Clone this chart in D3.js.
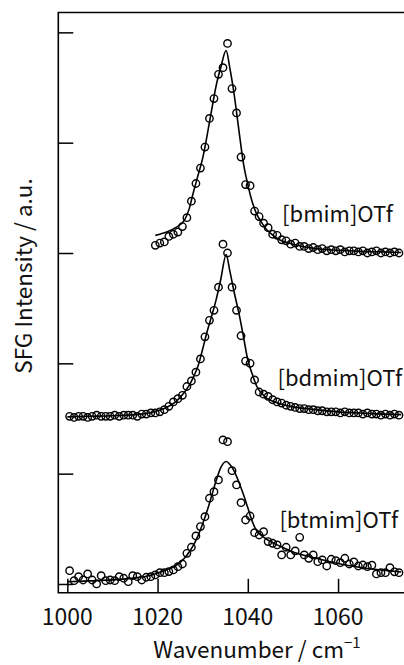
<!DOCTYPE html>
<html>
<head>
<meta charset="utf-8">
<script src="https://cdn.jsdelivr.net/npm/d3@7"></script>
<style>
  body { margin: 0; background: #fff; }
  svg { display: block; }
  text { font-family: "Noto Sans CJK JP", "DejaVu Sans", sans-serif; fill: #111; }
</style>
</head>
<body>
<svg id="chart" width="404" height="665"></svg>
<script>
// ---------- data

// measured wavenumbers (cm-1), 1 cm-1 steps
const WAVENUMBER = [
  1000.5, 1001.5, 1002.5, 1003.5, 1004.5, 1005.5, 1006.5, 1007.5, 1008.5, 1009.5,
  1010.5, 1011.5, 1012.5, 1013.5, 1014.5, 1015.5, 1016.5, 1017.5, 1018.5, 1019.5,
  1020.5, 1021.5, 1022.5, 1023.5, 1024.5, 1025.5, 1026.5, 1027.5, 1028.5, 1029.5,
  1030.5, 1031.5, 1032.5, 1033.5, 1034.5, 1035.5, 1036.5, 1037.5, 1038.5, 1039.5,
  1040.5, 1041.5, 1042.5, 1043.5, 1044.5, 1045.5, 1046.5, 1047.5, 1048.5, 1049.5,
  1050.5, 1051.5, 1052.5, 1053.5, 1054.5, 1055.5, 1056.5, 1057.5, 1058.5, 1059.5,
  1060.5, 1061.5, 1062.5, 1063.5, 1064.5, 1065.5, 1066.5, 1067.5, 1068.5, 1069.5,
  1070.5, 1071.5, 1072.5, 1073.5
];

// [bmim]OTf scan only starts at 1019.5
const BMIM_WAVENUMBER = WAVENUMBER.slice(19);

const BMIM_POINTS = [
  3.07, 3.09, 3.10, 3.15, 3.17, 3.19, 3.24, 3.32, 3.47, 3.63,
  3.77, 3.96, 4.22, 4.40, 4.62, 4.68, 4.90, 4.49, 4.27, 3.87,
  3.62, 3.61, 3.38, 3.33, 3.27, 3.23, 3.17, 3.16, 3.12, 3.11,
  3.08, 3.09, 3.06, 3.06, 3.04, 3.05, 3.03, 3.04, 3.02, 3.03,
  3.02, 3.03, 3.01, 3.02, 3.02, 3.01, 3.02, 3.00, 3.01, 3.02,
  3.00, 3.01, 3.00, 3.01, 3.00
];

const BDMIM_POINTS = [
  1.52, 1.51, 1.52, 1.52, 1.51, 1.52, 1.53, 1.52, 1.52, 1.52,
  1.53, 1.52, 1.53, 1.53, 1.53, 1.52, 1.54, 1.54, 1.55, 1.55,
  1.56, 1.58, 1.61, 1.65, 1.68, 1.71, 1.79, 1.84, 1.92, 2.04,
  2.24, 2.39, 2.48, 2.69, 3.08, 3.00, 2.69, 2.48, 2.25, 2.02,
  2.00, 1.85, 1.74, 1.72, 1.70, 1.67, 1.65, 1.64, 1.62, 1.61,
  1.60, 1.59, 1.59, 1.58, 1.58, 1.57, 1.57, 1.56, 1.56, 1.56,
  1.55, 1.56, 1.55, 1.55, 1.55, 1.54, 1.55, 1.54, 1.54, 1.53,
  1.54, 1.53, 1.54, 1.53
];

const BTMIM_POINTS = [
  0.121, 0.030, 0.066, 0.036, 0.091, 0.036, 0.000, 0.075, 0.030, 0.036,
  0.030, 0.066, 0.052, 0.021, 0.075, 0.066, 0.036, 0.061, 0.066, 0.082,
  0.102, 0.102, 0.112, 0.127, 0.157, 0.181, 0.278, 0.333, 0.435, 0.520,
  0.610, 0.777, 0.837, 0.943, 1.306, 1.290, 1.027, 0.898, 0.737, 0.580,
  0.616, 0.465, 0.444, 0.474, 0.384, 0.369, 0.354, 0.263, 0.333, 0.263,
  0.300, 0.423, 0.263, 0.233, 0.263, 0.202, 0.218, 0.163, 0.224, 0.211,
  0.193, 0.233, 0.181, 0.200, 0.163, 0.172, 0.157, 0.170, 0.091, 0.102,
  0.102, 0.148, 0.110, 0.102
];

// fitted curves
const FIT_WAVENUMBER = [
  1000, 1005, 1010, 1015, 1018, 1020, 1022, 1024, 1026, 1027,
  1028, 1029, 1030, 1031, 1032, 1033, 1034, 1035.2, 1036, 1037,
  1038, 1039, 1040, 1041, 1042, 1043, 1044, 1045, 1047, 1050,
  1055, 1060, 1065, 1070, 1074
];

const BMIM_FIT_WAVENUMBER = [
  1019.5, 1022, 1024, 1026, 1027, 1028, 1029, 1030, 1031, 1032,
  1033, 1034, 1035.2, 1036, 1037, 1038, 1039, 1040, 1041, 1042,
  1043, 1044, 1045, 1047, 1050, 1055, 1060, 1065, 1070, 1074
];

const BMIM_FIT = [
  3.16, 3.19, 3.23, 3.30, 3.40, 3.56, 3.71, 3.86, 4.07, 4.30,
  4.52, 4.68, 4.835, 4.68, 4.43, 4.12, 3.82, 3.62, 3.46, 3.35,
  3.28, 3.22, 3.18, 3.12, 3.08, 3.04, 3.025, 3.015, 3.01, 3.005
];

const BDMIM_FIT = [
  1.515, 1.52, 1.525, 1.535, 1.55, 1.57, 1.60, 1.65, 1.74, 1.80,
  1.88, 1.98, 2.13, 2.29, 2.43, 2.58, 2.76, 2.985, 2.84, 2.64,
  2.46, 2.25, 2.03, 1.90, 1.79, 1.73, 1.69, 1.665, 1.635, 1.605,
  1.58, 1.56, 1.55, 1.54, 1.535
];

const BTMIM_FIT = [
  0.02, 0.028, 0.037, 0.055, 0.075, 0.10, 0.13, 0.165, 0.235, 0.29,
  0.355, 0.44, 0.545, 0.665, 0.80, 0.94, 1.055, 1.11, 1.085, 1.02,
  0.925, 0.815, 0.69, 0.565, 0.48, 0.44, 0.41, 0.385, 0.345, 0.29,
  0.235, 0.185, 0.15, 0.125, 0.108
];

const X_TICKS = [1000, 1020, 1040, 1060];
const Y_TICKS = [0, 1, 2, 3, 4, 5];

const LABELS = ["[bmim]OTf", "[bdmim]OTf", "[btmim]OTf"];
const LABEL_VALUES = [3.28, 1.79, 0.505]; // where each label baseline sits
const LABEL_WAVENUMBER = [1047.6, 1046.6, 1047.0];

// ---------- layout

const X_MIN = 998;
const X_MAX = 1080;
const Y_MIN = -0.08;
const Y_MAX = 5.18;

const PLOT_LEFT = 58.3;
const PLOT_RIGHT = 428.3; // frame runs past the picture edge
const PLOT_TOP = 12.5;
const PLOT_BOTTOM = 592.8;

const TICK_X_LEN = 14;
const TICK_Y_LEN = 15;
const POINT_RADIUS = 3.7;

const FONT_TICK = 23;
const FONT_TITLE = 22.5;
const FONT_LABEL = 22;

// ----------

function toPairs(xs, ys) {
  return xs.map(function (x, i) {
    return [x, ys[i]];
  });
}

function drawChart() {
  let svg = d3.select("#chart");

  let x = d3.scaleLinear().domain([X_MIN, X_MAX]).range([PLOT_LEFT, PLOT_RIGHT]);
  let y = d3.scaleLinear().domain([Y_MIN, Y_MAX]).range([PLOT_BOTTOM, PLOT_TOP]);

  // frame: left, top, bottom (right side is cut off)
  svg
    .append("path")
    .attr("d", "M" + PLOT_RIGHT + "," + PLOT_TOP + "H" + PLOT_LEFT + "V" + PLOT_BOTTOM + "H" + PLOT_RIGHT)
    .attr("fill", "none")
    .attr("stroke", "#000")
    .attr("stroke-width", 1.6);

  // inward ticks via d3 axes
  let xAxis = d3.axisTop(x).tickValues(X_TICKS).tickSize(TICK_X_LEN).tickFormat("");
  svg
    .append("g")
    .attr("transform", "translate(0," + PLOT_BOTTOM + ")")
    .call(xAxis)
    .call(function (g) {
      g.select(".domain").remove();
      g.selectAll("line").attr("stroke", "#000").attr("stroke-width", 1.5);
    });

  let yAxis = d3.axisRight(y).tickValues(Y_TICKS).tickSize(TICK_Y_LEN).tickFormat("");
  svg
    .append("g")
    .attr("transform", "translate(" + PLOT_LEFT + ",0)")
    .call(yAxis)
    .call(function (g) {
      g.select(".domain").remove();
      g.selectAll("line").attr("stroke", "#000").attr("stroke-width", 1.5);
    });

  // tick labels under the frame
  svg
    .append("g")
    .selectAll("text")
    .data(X_TICKS)
    .enter()
    .append("text")
    .attr("x", function (d) {
      return x(d);
    })
    .attr("y", 625)
    .attr("text-anchor", "middle")
    .attr("font-size", FONT_TICK)
    .text(function (d) {
      return d;
    });

  // axis titles
  let xTitle = svg
    .append("text")
    .attr("x", 257)
    .attr("y", 658)
    .attr("text-anchor", "middle")
    .attr("font-size", FONT_TITLE);
  xTitle.append("tspan").text("Wavenumber / cm");
  xTitle.append("tspan").attr("dy", -10).attr("font-size", 15).text("\u22121");

  svg
    .append("text")
    .attr("transform", "translate(32,276) rotate(-90)")
    .attr("text-anchor", "middle")
    .attr("font-size", FONT_TITLE)
    .text("SFG Intensity / a.u.");

  let line = d3
    .line()
    .x(function (d) {
      return x(d[0]);
    })
    .y(function (d) {
      return y(d[1]);
    })
    .curve(d3.curveMonotoneX);

  let fits = [
    toPairs(BMIM_FIT_WAVENUMBER, BMIM_FIT),
    toPairs(FIT_WAVENUMBER, BDMIM_FIT),
    toPairs(FIT_WAVENUMBER, BTMIM_FIT)
  ];
  let points = [
    toPairs(BMIM_WAVENUMBER, BMIM_POINTS),
    toPairs(WAVENUMBER, BDMIM_POINTS),
    toPairs(WAVENUMBER, BTMIM_POINTS)
  ];

  svg
    .append("g")
    .selectAll("path")
    .data(fits)
    .enter()
    .append("path")
    .attr("d", line)
    .attr("fill", "none")
    .attr("stroke", "#000")
    .attr("stroke-width", 1.6);

  points.forEach(function (series) {
    svg
      .append("g")
      .selectAll("circle")
      .data(series)
      .enter()
      .append("circle")
      .attr("cx", function (d) {
        return x(d[0]);
      })
      .attr("cy", function (d) {
        return y(d[1]);
      })
      .attr("r", POINT_RADIUS)
      .attr("fill", "none")
      .attr("stroke", "#000")
      .attr("stroke-width", 1.4);
  });

  // sample names
  svg
    .append("g")
    .selectAll("text")
    .data(LABELS)
    .enter()
    .append("text")
    .attr("x", function (d, i) {
      return x(LABEL_WAVENUMBER[i]);
    })
    .attr("y", function (d, i) {
      return y(LABEL_VALUES[i]);
    })
    .attr("font-size", FONT_LABEL)
    .text(function (d) {
      return d;
    });
}

drawChart();
</script>
</body>
</html>
